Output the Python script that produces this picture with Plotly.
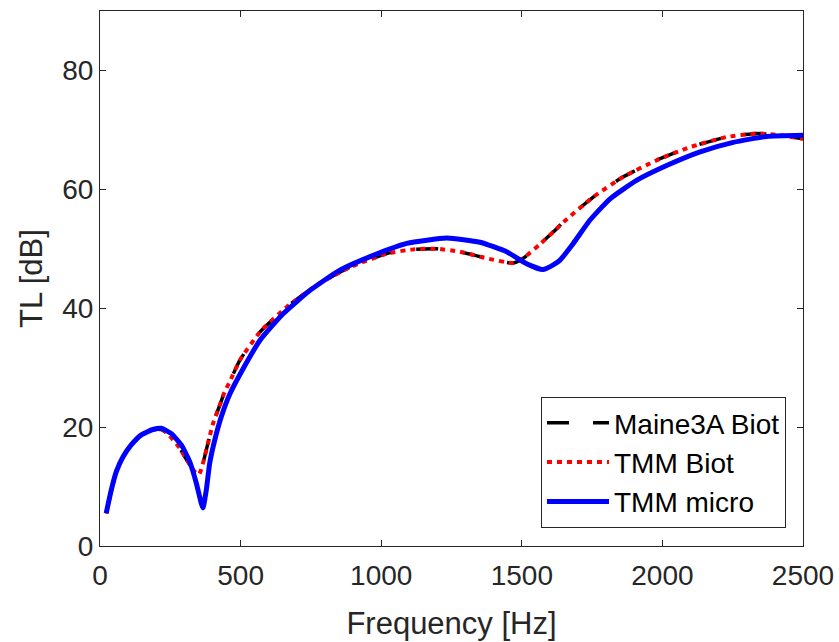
import plotly.graph_objects as go

# Maine3A Biot (black dashed)
freq_maine = [22, 40, 58, 82, 111, 147, 188, 218, 236, 283, 307, 337, 352, 360, 372, 384, 402, 426, 443, 461, 498, 569, 664, 771, 889, 1020, 1114, 1197, 1280, 1375, 1470, 1505, 1565, 1618, 1648, 1754, 1861, 1980, 2098, 2228, 2335, 2418, 2500]
tl_maine = [5.5, 9.4, 12.5, 15.0, 17.0, 18.7, 19.6, 19.6, 19.1, 16.5, 14.6, 12.5, 12.0, 12.9, 15.0, 17.3, 20.6, 23.7, 25.9, 27.6, 31.3, 36.0, 40.2, 43.9, 46.9, 49.2, 49.9, 50.0, 49.5, 48.4, 47.6, 48.4, 50.8, 53.1, 54.5, 58.7, 62.1, 64.9, 67.1, 68.8, 69.4, 69.1, 68.5]

# TMM Biot (red dotted)
freq_tmm_biot = [22, 40, 58, 82, 111, 147, 188, 218, 236, 283, 307, 337, 352, 360, 372, 384, 402, 426, 443, 461, 498, 569, 664, 771, 889, 1020, 1114, 1197, 1280, 1375, 1470, 1505, 1565, 1618, 1648, 1754, 1861, 1980, 2098, 2228, 2335, 2418, 2500]
tl_tmm_biot = [5.5, 9.4, 12.5, 15.0, 17.0, 18.7, 19.6, 19.6, 19.1, 16.5, 14.6, 12.5, 12.0, 12.9, 15.0, 17.3, 20.6, 23.7, 25.9, 27.6, 31.3, 36.0, 40.2, 43.9, 46.9, 49.2, 49.9, 50.0, 49.5, 48.4, 47.6, 48.4, 50.8, 53.1, 54.5, 58.7, 62.1, 64.9, 67.1, 68.8, 69.4, 69.1, 68.5]

# TMM micro (blue solid)
freq_tmm_micro = [22, 40, 58, 82, 111, 147, 188, 218, 254, 289, 319, 343, 360, 366, 378, 390, 408, 431, 461, 504, 569, 652, 747, 853, 972, 1091, 1233, 1351, 1446, 1517, 1575, 1612, 1636, 1683, 1742, 1814, 1908, 2015, 2134, 2252, 2371, 2500]
tl_tmm_micro = [5.5, 9.4, 12.5, 15.0, 17.0, 18.7, 19.6, 19.8, 18.9, 17.0, 14.2, 10.5, 7.2, 6.4, 9.4, 13.9, 17.8, 21.7, 25.5, 29.4, 34.6, 39.1, 43.0, 46.4, 48.9, 50.9, 51.8, 51.1, 49.5, 47.5, 46.5, 47.3, 48.1, 50.9, 54.8, 58.4, 61.5, 64.0, 66.3, 67.9, 68.9, 69.1]

x_ticks = [0, 500, 1000, 1500, 2000, 2500]
y_ticks = [0, 20, 40, 60, 80]

FONT = "Liberation Sans, Arial, Helvetica, sans-serif"
AX = "#262626"

fig = go.Figure()
fig.add_trace(go.Scatter(x=freq_maine, y=tl_maine, mode="lines", name="Maine3A Biot",
                         line=dict(color="#000000", width=3.5, dash="22px,24px", shape="spline", smoothing=0.5)))
fig.add_trace(go.Scatter(x=freq_tmm_biot, y=tl_tmm_biot, mode="lines", name="TMM Biot",
                         line=dict(color="#ff0000", width=4, dash="5px,5px", shape="spline", smoothing=0.5)))
fig.add_trace(go.Scatter(x=freq_tmm_micro, y=tl_tmm_micro, mode="lines", name="TMM micro",
                         line=dict(color="#0000ff", width=5, shape="spline", smoothing=0.5)))

axis_common = dict(
    showline=True, linecolor=AX, linewidth=1, mirror="ticks",
    ticks="inside", ticklen=6, tickcolor=AX, tickwidth=1,
    showgrid=False, zeroline=False, automargin=False,
    tickfont=dict(family=FONT, size=28, color=AX),
)

fig.update_xaxes(range=[0, 2500], tickvals=x_ticks, ticklabelstandoff=4,
                 title=dict(text="Frequency [Hz]", font=dict(family=FONT, size=31, color=AX), standoff=22),
                 **axis_common)
fig.update_yaxes(range=[0, 90], tickvals=y_ticks,
                 title=dict(text="TL [dB]", font=dict(family=FONT, size=31, color=AX), standoff=10),
                 **axis_common)

fig.update_layout(
    width=839, height=642,
    margin=dict(l=100, r=36, t=11, b=96),
    paper_bgcolor="white", plot_bgcolor="white",
    font=dict(family=FONT, color=AX),
    showlegend=True,
    legend=dict(x=0.9758, y=0.0336, xanchor="right", yanchor="bottom",
                bgcolor="white", bordercolor=AX, borderwidth=1,
                font=dict(family=FONT, size=28, color="#000000"),
                itemwidth=62, tracegroupgap=0),
)

fig.write_html("out.html")
